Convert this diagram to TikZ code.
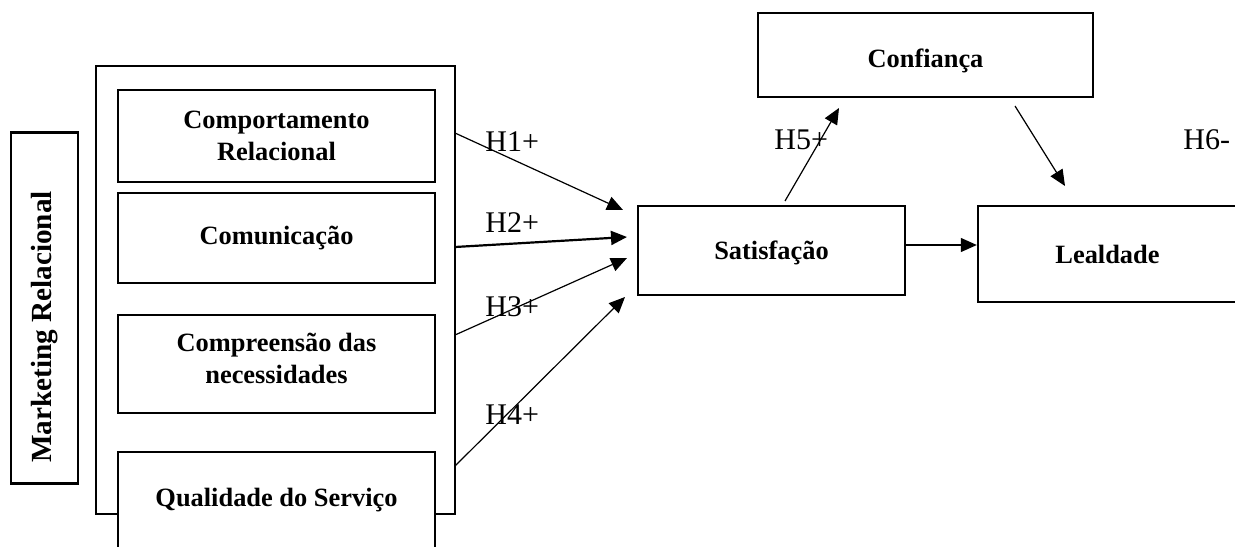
\documentclass[tikz,border=0pt]{standalone}
\usepackage{fontspec}
\setmainfont{Liberation Serif}
\usetikzlibrary{arrows.meta,positioning}

\begin{document}
\begin{tikzpicture}[x=0.5pt, y=-0.5pt, >={Triangle[length=8pt,width=7pt]}]
  \tikzstyle{box}=[draw, line width=1.2pt, fill=white, align=center, inner sep=0pt, font=\fontsize{13.2}{16}\selectfont\bfseries]
  \tikzstyle{dim}=[box, minimum width=158.5pt]
  \tikzstyle{frame}=[draw, line width=1.1pt, minimum width=179.5pt, minimum height=224pt]
  \tikzstyle{hyp}=[anchor=west, inner sep=0pt, font=\fontsize{15}{18}\selectfont]
  \tikzstyle{link}=[->, line width=0.6pt]

  \useasboundingbox (0,0) rectangle (1235,546);
  \clip (0,0) rectangle (1235,546);

  % ------- nodes -------
  \node[frame] (grp) at (275.5,290) {};
  \node[box, rotate=90, minimum width=175.5pt, minimum height=33.5pt, font=\fontsize{14.6}{17}\selectfont\bfseries] (mkt) at (44.5,308) {Marketing Relacional\hspace*{19pt}};

  \node[dim, minimum height=46pt] (comp)  at (276.5,136) {Comportamento\\Relacional};
  \node[dim, minimum height=45pt] (comu)  at (276.5,238) {Comunicação};
  \node[dim, minimum height=49pt, text depth=6pt] (compr) at (276.5,364) {Compreensão das\\necessidades};
  \node[dim, minimum height=48pt] (qual)  at (276.5,500) {Qualidade do Serviço};

  \node[box, minimum width=133.5pt, minimum height=44.5pt, text depth=0pt] (sat) at (771.5,250.5) {Satisfação};
  \node[box, minimum width=167.5pt, minimum height=42pt, text height=12pt, text depth=0pt] (conf) at (925.5,55) {Confiança};
  \node[box, minimum width=129.5pt, minimum height=48pt] (leal) at (1107.5,254) {Lealdade};

  % hypotheses
  \node[hyp] (h1) at (485,142) {H1+};
  \node[hyp] (h2) at (485,223) {H2+};
  \node[hyp] (h3) at (485,307) {H3+};
  \node[hyp] (h4) at (485,415) {H4+};
  \node[hyp] (h5) at (774,140) {H5+};
  \node[hyp] (h6) at (1183,140) {H6-};

  % arrow ends
  \coordinate (s1) at (455,133);  \coordinate (e1) at (623,210);
  \coordinate (s2) at (455,247);  \coordinate (e2) at (627,237);
  \coordinate (s3) at (455,335);  \coordinate (e3) at (627,258);
  \coordinate (s4) at (455,466);  \coordinate (e4) at (625,297);
  \coordinate (s5) at (785,201);  \coordinate (e5) at (839,108);
  \coordinate (s6) at (1015,106); \coordinate (e6) at (1065,186);
  \coordinate (m) at ([yshift=2.75pt]sat.east);

  % ------- arrows -------
  \draw[link] (s1) -- (e1);
  \draw[link, line width=1.1pt] (s2) -- (e2);
  \draw[link] (s3) -- (e3);
  \draw[link] (s4) -- (e4);
  \draw[link] (s5) -- (e5);
  \draw[link] (s6) -- (e6);
  \draw[link] (m) -- (m -| leal.west);
\end{tikzpicture}
\end{document}
